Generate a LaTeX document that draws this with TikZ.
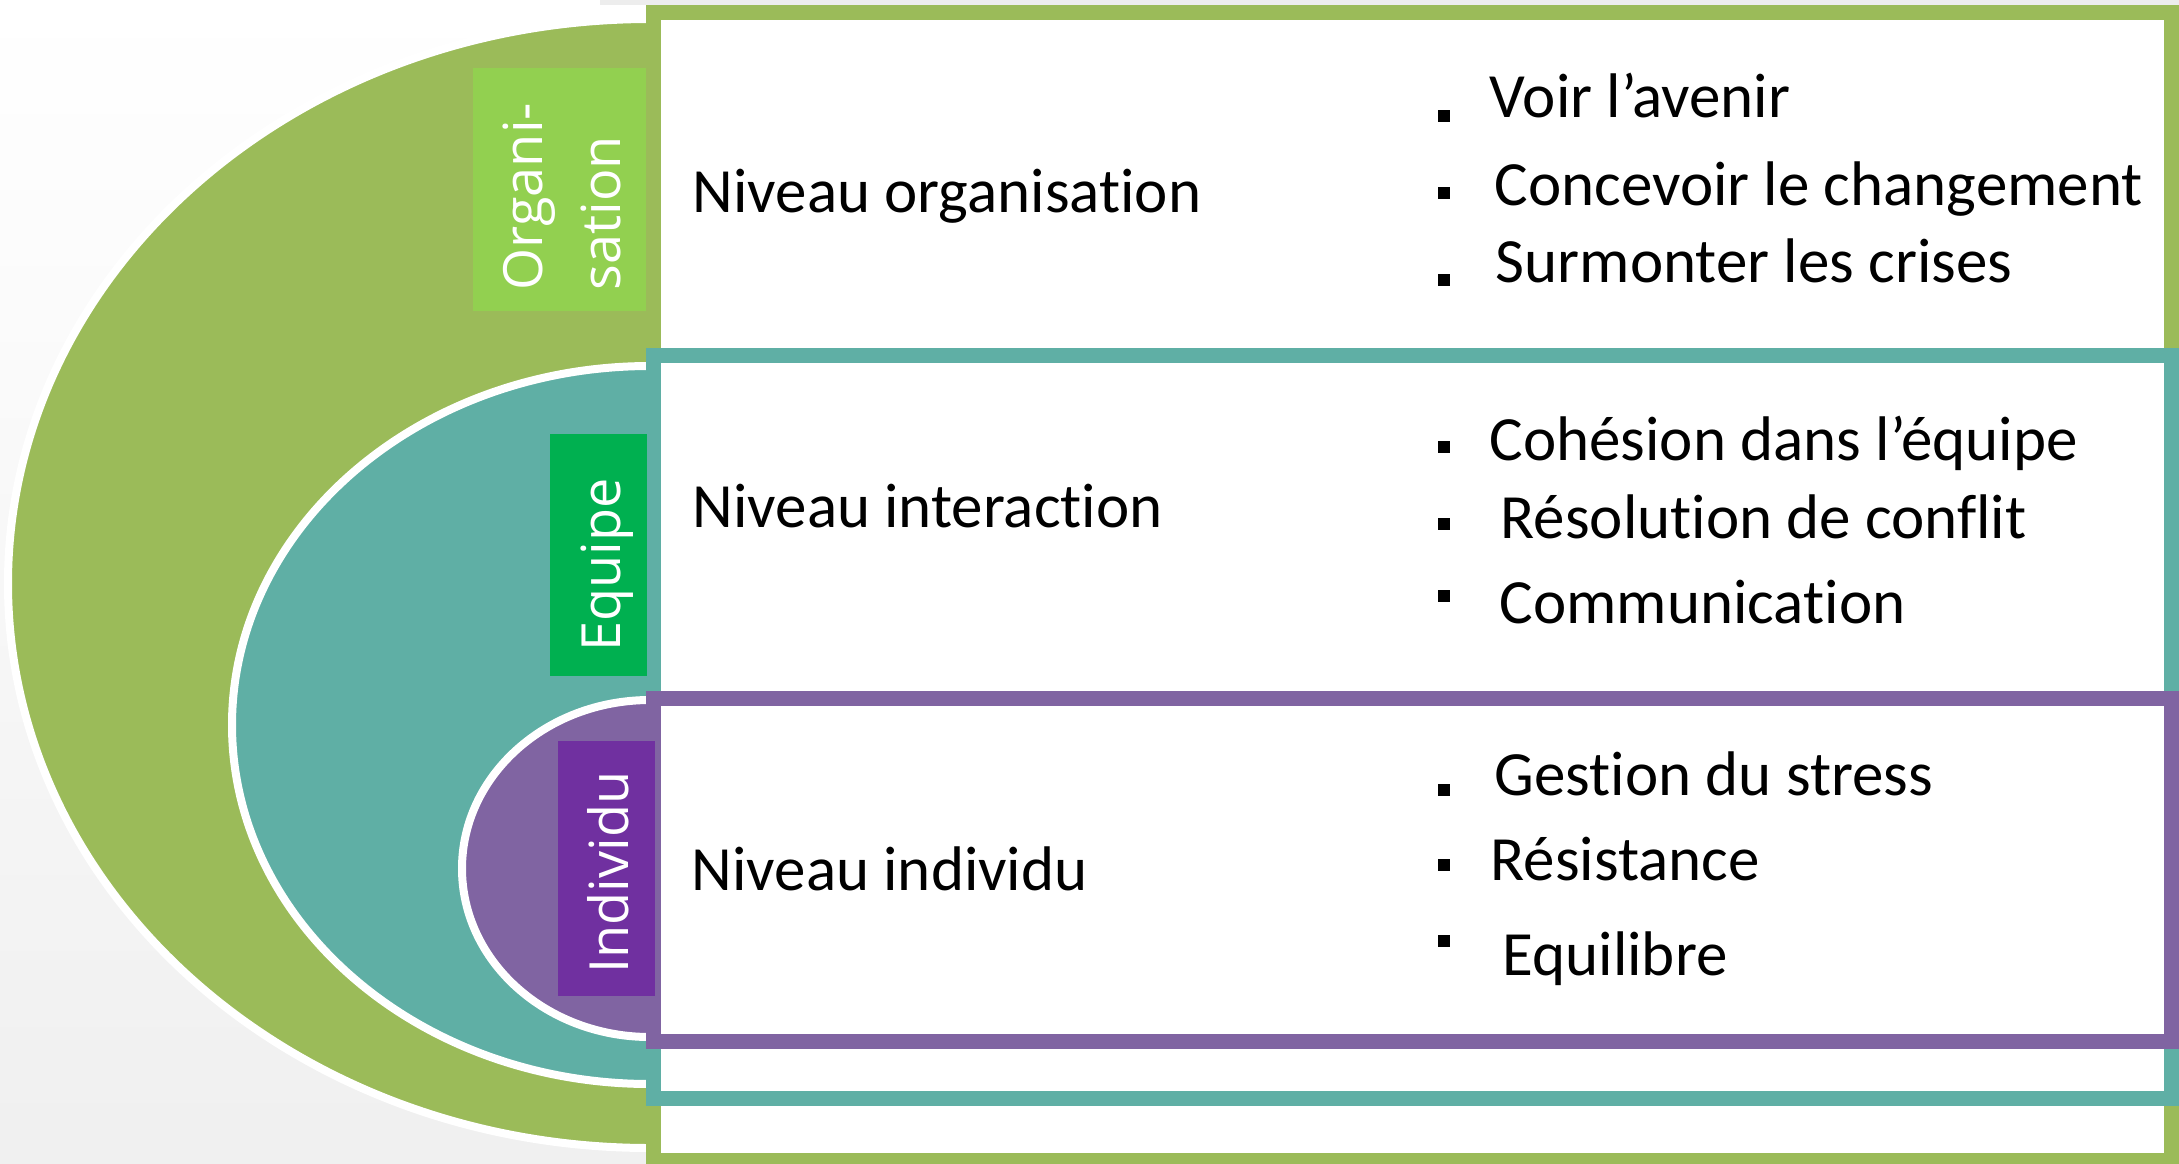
\documentclass[tikz,border=0pt]{standalone}
\usepackage{fontspec}
\setmainfont{Carlito}[Ligatures={NoCommon}]
\newfontfamily\labelfont{Open Sans}
\newcommand\noligti{t\kern0pt i}
\definecolor{cgreen}{HTML}{9BBB59}
\definecolor{cteal}{HTML}{5FAFA5}
\definecolor{cpurple}{HTML}{8064A2}
\definecolor{lgreen}{HTML}{92D050}
\definecolor{dgreen}{HTML}{00B050}
\definecolor{dpurple}{HTML}{7030A0}
\begin{document}
\begin{tikzpicture}[x=0.3pt,y=-0.3pt,
  frame/.style={line width=4.5pt,fill=white},
  outline/.style={draw=white,line width=2.4pt},
  txt/.style={anchor=base west,inner sep=0pt,font=\fontsize{18.9pt}{22pt}\selectfont},
  lbl/.style={anchor=base west,inner sep=0pt,rotate=90,text=white,font=\labelfont\fontsize{16.2pt}{19pt}\selectfont},
  bul/.style={fill=black,minimum width=3.4pt,minimum height=3.4pt,inner sep=0pt,outer sep=0pt}]
\useasboundingbox (0,0) rectangle (2179,1163);
\shade[top color=white,bottom color=black!6] (0,0) rectangle (2179,1163);
\fill[black!7] (600,0) rectangle (2179,5);
% outer green half ellipse
\fill[cgreen] (650,1148) arc[start angle=90,end angle=270,x radius=642,y radius=564.5] -- cycle;
\draw[outline] (650,1148) arc[start angle=90,end angle=270,x radius=642,y radius=564.5];
\draw[frame,draw=cgreen] (653,12.5) rectangle (2171,1160.5);
% teal
\fill[cteal] (650,1084) arc[start angle=90,end angle=270,x radius=418,y radius=359] -- cycle;
\draw[outline] (650,1084) arc[start angle=90,end angle=270,x radius=418,y radius=359];
\draw[frame,draw=cteal] (653,355.5) rectangle (2171,1098.5);
% purple
\fill[cpurple] (650,1037) arc[start angle=90,end angle=270,x radius=188,y radius=168.5] -- cycle;
\draw[outline] (650,1037) arc[start angle=90,end angle=270,x radius=188,y radius=168.5];
\draw[frame,draw=cpurple] (653,698.5) rectangle (2171,1041.5);
% label boxes
\fill[lgreen] (473,68) rectangle (646,311);
\fill[dgreen] (550,434) rectangle (647,676);
\fill[dpurple] (558,741) rectangle (655,996);
\node[lbl] (org1) at (542,291) {Organi-};
\node[lbl] (org2) at (620,291) {sation};
\node[lbl] (equ) at (620,652) {Equipe};
\node[lbl] (ind) at (628,974) {Individu};
% level texts
\node[txt] (n1) at (692,212) {Niveau organisa\noligti on};
\node[txt] (n2) at (692,527) {Niveau interac\noligti on};
\node[txt] (n3) at (691,890) {Niveau individu};
% bullets
\node[bul] (b1) at (1444,116) {};
\node[bul] (b2) at (1444,193) {};
\node[bul] (b3) at (1444,280) {};
\node[bul] (b4) at (1444,447) {};
\node[bul] (b5) at (1444,524) {};
\node[bul] (b6) at (1444,596) {};
\node[bul] (b7) at (1444,790) {};
\node[bul] (b8) at (1444,865) {};
\node[bul] (b9) at (1444,941) {};
\node[txt] (t1) at (1489,117) {Voir l’avenir};
\node[txt] (t2) at (1494,205) {Concevoir le changement};
\node[txt] (t3) at (1495,282) {Surmonter les crises};
\node[txt] (t4) at (1489,460) {Cohésion dans l’équipe};
\node[txt] (t5) at (1500,538) {Résolu\noligti on de conf\kern0pt lit};
\node[txt] (t6) at (1499,623) {Communica\noligti on};
\node[txt] (t7) at (1494,795) {Ges\noligti on du stress};
\node[txt] (t8) at (1490,880) {Résistance};
\node[txt] (t9) at (1502,975) {Equilibre};
\end{tikzpicture}
\end{document}
